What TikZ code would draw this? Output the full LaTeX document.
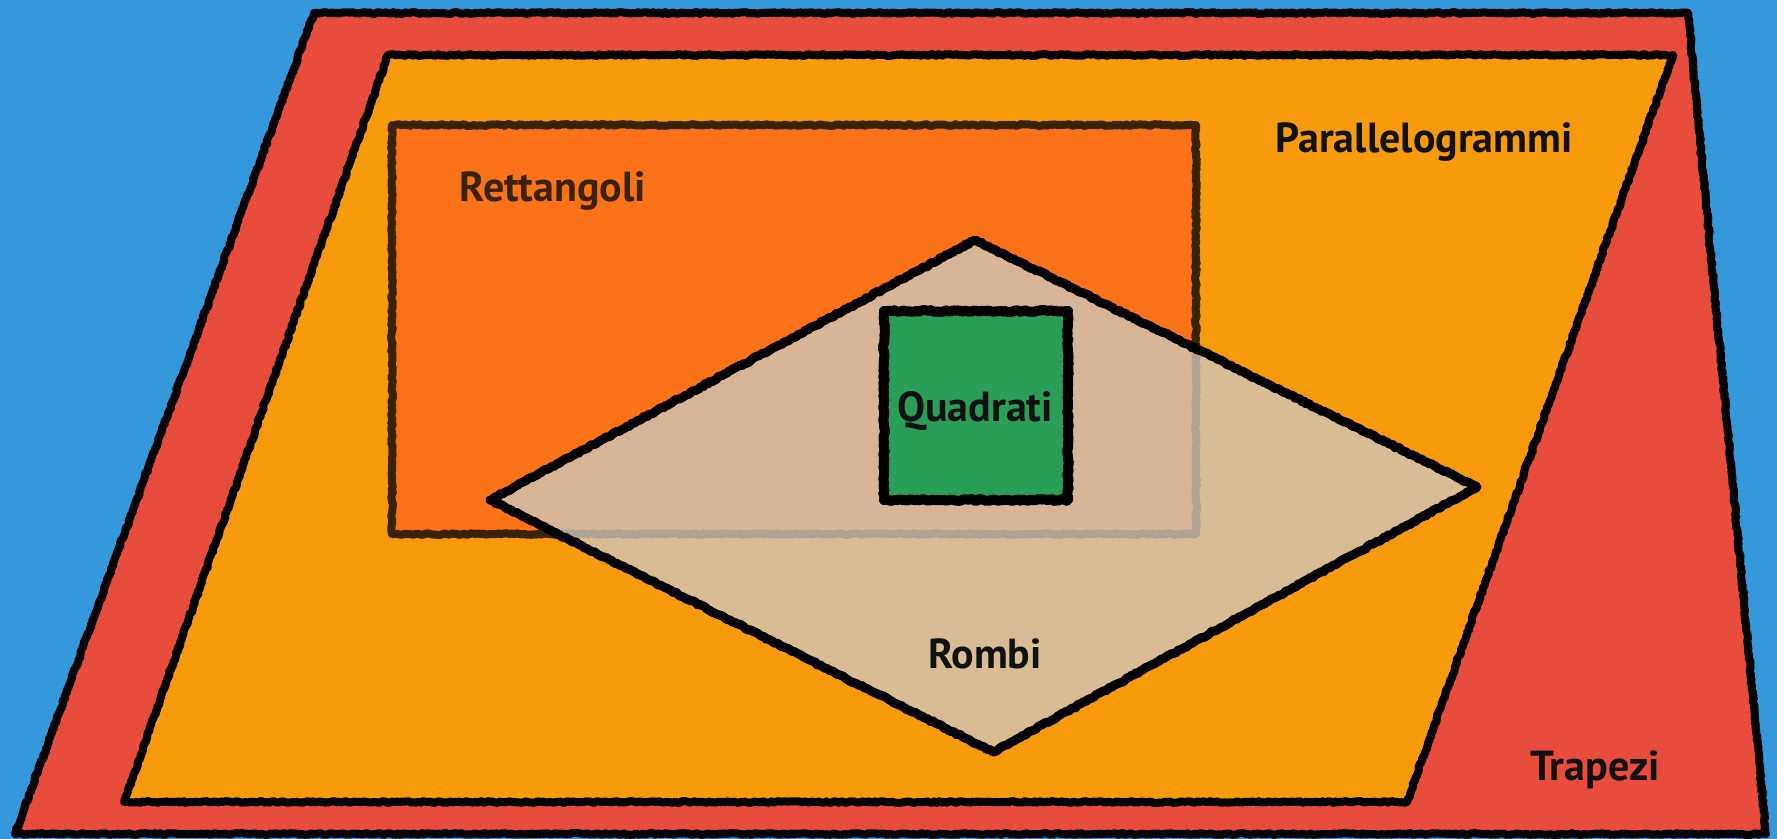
\documentclass[tikz,border=0pt]{standalone}
\usepackage{fontspec}
\setmainfont{PT Sans}
\usetikzlibrary{decorations.pathmorphing}

\definecolor{sky}{HTML}{3498DB}
\definecolor{trapred}{HTML}{E74C3C}
\definecolor{paraorange}{HTML}{F79A0C}
\definecolor{rectorange}{HTML}{FC7218}
\definecolor{rectline}{HTML}{3A2205}
\definecolor{rhombfill}{HTML}{D0C8BB}
\definecolor{sqgreen}{HTML}{2A9D58}
\definecolor{ink}{HTML}{111111}

\begin{document}
\begin{tikzpicture}[x=0.5pt,y=-0.5pt,
  chalk/.style={decorate, decoration={random steps, segment length=1.2pt, amplitude=0.45pt}, line join=round},
  setname/.style={font=\fontsize{21}{25}\selectfont\bfseries, anchor=base, inner sep=0pt, text=ink}]
\pgfmathsetseed{7}
\useasboundingbox (0,0) rectangle (1777,839);
\fill[sky] (0,0) rectangle (1777,839);

% Trapezi
\filldraw[chalk, fill=trapred, draw=black, line width=4pt]
  (314,13) -- (1688,13) -- (1766,834) -- (15,834) -- cycle;
% Parallelogrammi
\filldraw[chalk, fill=paraorange, draw=black, line width=4pt]
  (388,55) -- (1673,55) -- (1407,802) -- (124,802) -- cycle;
% Rettangoli
\filldraw[chalk, fill=rectorange, draw=rectline, line width=4pt]
  (392,125) rectangle (1196,534);
% Rombi (translucent, so the rectangle shows through)
\filldraw[chalk, fill=rhombfill, fill opacity=0.78, draw=black, line width=4.5pt]
  (975,240) -- (1477,487) -- (993,752) -- (490,500) -- cycle;
% Quadrati
\filldraw[chalk, fill=sqgreen, draw=black, line width=5pt]
  (884,311) rectangle (1068,500);

\node[setname] (para) at (1424,153) {Parallelogrammi};
\node[setname, text=rectline] (rett) at (553,202) {Rettangoli};
\node[setname] (quad) at (975,422) {Quadrati};
\node[setname] (rombi) at (985,668) {Rombi};
\node[setname] (trap) at (1595,780) {Trapezi};
\end{tikzpicture}
\end{document}
